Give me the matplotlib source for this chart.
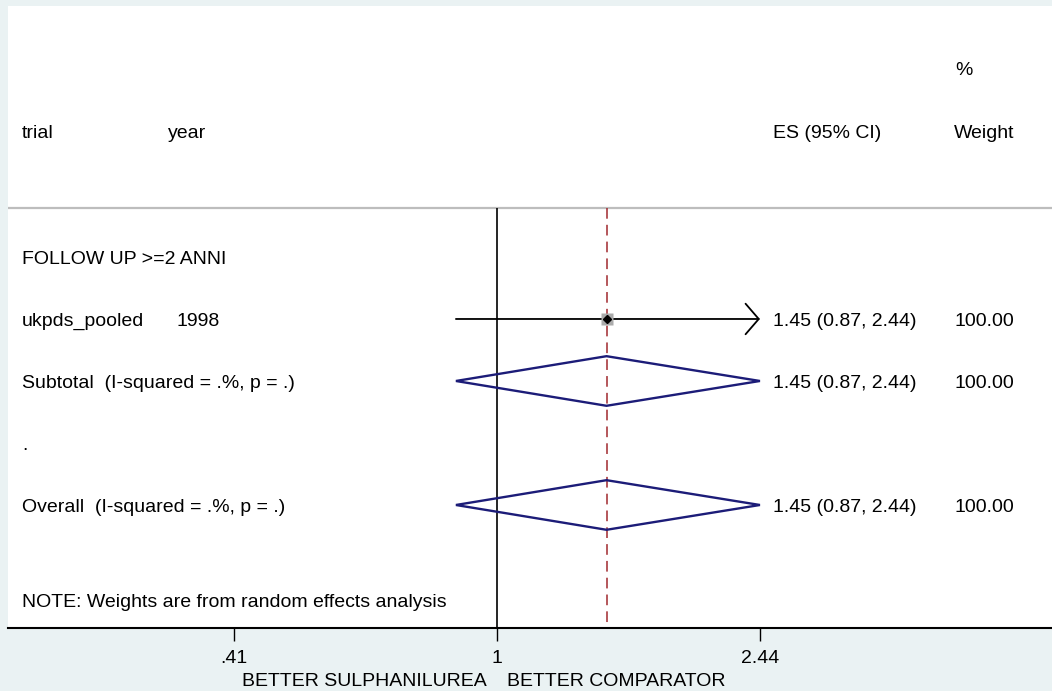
import numpy as np
import matplotlib
matplotlib.use('Agg')
import matplotlib.pyplot as plt
from matplotlib.transforms import blended_transform_factory

plt.rcParams['font.family'] = ['Liberation Sans', 'DejaVu Sans']

# rows of the forest plot
labels = ['FOLLOW UP >=2 ANNI', 'ukpds_pooled', 'Subtotal  (I-squared = .%, p = .)',
          '.', 'Overall  (I-squared = .%, p = .)']
years = ['', '1998', '', '', '']
es = [np.nan, 1.45, 1.45, np.nan, 1.45]
ci_lo = [np.nan, 0.87, 0.87, np.nan, 0.87]
ci_hi = [np.nan, 2.44, 2.44, np.nan, 2.44]
row_kind = ['head', 'study', 'diamond', 'blank', 'diamond']
es_text = ['', '1.45 (0.87, 2.44)', '1.45 (0.87, 2.44)', '', '1.45 (0.87, 2.44)']
weights = ['', '100.00', '100.00', '', '100.00']
overall_es = 1.45
tick_vals = [0.41, 1, 2.44]
tick_labels = ['.41', '1', '2.44']
note = 'NOTE: Weights are from random effects analysis'
left_label = 'BETTER SULPHANILUREA'
right_label = 'BETTER COMPARATOR'

W, H = 1052, 691
bg = '#EAF2F3'
navy = '#1c1c78'
fs = 14
base = 0.11  # baseline offset below row centre, in row units

fig = plt.figure(figsize=(W / 100, H / 100), dpi=100, facecolor=bg)
ax = fig.add_axes([8 / W, (H - 628) / H, (W - 8) / W, 622 / H])
ax.set_facecolor('white')

ax.set_xscale('log')
ax.set_xlim(0.1904, 6.571)
y_bottom, y_top = 6.984, -3.048
ax.set_ylim(y_bottom, y_top)

rows = np.arange(1, len(labels) + 1)
line_top = 0.21

# header separator and reference lines
ax.axhline(line_top, color='#BDBDBD', lw=1.6, zorder=1)
ax.vlines(1, line_top, y_bottom, color='black', lw=1.2, zorder=2)
ax.vlines(overall_es, line_top, y_bottom, color='#A0282D', lw=1.1,
          linestyles=(0, (7, 4)), zorder=2)

for y, kind, e, lo, hi in zip(rows, row_kind, es, ci_lo, ci_hi):
    if kind == 'study':
        ax.annotate('', xy=(hi, y), xytext=(lo, y),
                    arrowprops=dict(arrowstyle='->,head_length=0.95,head_width=1.1',
                                    lw=1.3, color='black', shrinkA=0, shrinkB=0),
                    zorder=3)
        ax.plot([e], [y], marker='s', ms=8, color='#ABABAB', mec='none', zorder=4)
        ax.plot([e], [y], marker='D', ms=4, color='black', zorder=5)
    elif kind == 'diamond':
        ax.fill([lo, e, hi, e], [y, y - 0.4, y, y + 0.4], facecolor='none',
                edgecolor=navy, lw=1.7, zorder=3)

# text columns (x in figure pixels, y in row units)
tr = blended_transform_factory(fig.transFigure, ax.transData)
def px(x):
    return x / W

def put(x, y, s):
    ax.text(px(x), y + base, s, transform=tr, fontsize=fs, va='baseline')

put(955, -2.05, '%')
put(22, -1.03, 'trial')
put(168, -1.03, 'year')
put(773, -1.03, 'ES (95% CI)')
put(954, -1.03, 'Weight')

for y, lab, yr, est, w in zip(rows, labels, years, es_text, weights):
    put(22, y, lab)
    if yr:
        put(177, y, yr)
    if est:
        put(773, y, est)
        put(955, y, w)

put(22, 6.53, note)

# axes styling
for side in ['top', 'left', 'right']:
    ax.spines[side].set_visible(False)
ax.spines['bottom'].set_linewidth(1.5)
ax.set_yticks([])
ax.set_xticks(tick_vals)
ax.set_xticklabels(tick_labels, fontsize=fs)
ax.minorticks_off()
ax.tick_params(axis='x', length=9.5, width=1, pad=6)

fig.text(364 / W, 1 - 681 / H, left_label, fontsize=fs, ha='center', va='center')
fig.text(616 / W, 1 - 681 / H, right_label, fontsize=fs, ha='center', va='center')

fig.savefig('out.png', dpi=100, facecolor=bg)
